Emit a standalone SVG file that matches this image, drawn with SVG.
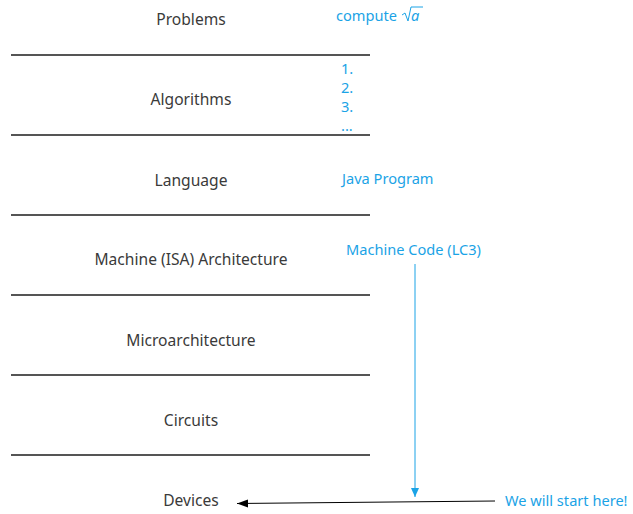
<svg xmlns="http://www.w3.org/2000/svg" width="633" height="514" viewBox="0 0 633 514">
  <style>
    .layer { font-family: "Noto Sans", "Liberation Sans", sans-serif; font-size: 15.6px; fill: #3a3a3a; text-anchor: middle; }
    .note { font-family: "Noto Sans", "Liberation Sans", sans-serif; font-size: 14.6px; fill: #1ba3e6; }
    .sep { stroke: #555; stroke-width: 2; }
  </style>
  <defs>
    <marker id="headBlue" markerWidth="10" markerHeight="10" refX="9" refY="5" orient="auto" markerUnits="userSpaceOnUse">
      <path d="M0,1 L9,5 L0,9 Z" fill="#1ba3e6"/>
    </marker>
    <marker id="headBlack" markerWidth="12" markerHeight="10" refX="11" refY="5" orient="auto" markerUnits="userSpaceOnUse">
      <path d="M0,1 L11,5 L0,9 Z" fill="#000"/>
    </marker>
  </defs>
  <rect width="633" height="514" fill="#fff"/>

  <!-- layer separators -->
  <g id="separators">
    <line class="sep" x1="11" y1="55" x2="370" y2="55"/>
    <line class="sep" x1="11" y1="135" x2="370" y2="135"/>
    <line class="sep" x1="11" y1="215" x2="370" y2="215"/>
    <line class="sep" x1="11" y1="295" x2="370" y2="295"/>
    <line class="sep" x1="11" y1="375" x2="370" y2="375"/>
    <line class="sep" x1="11" y1="455" x2="370" y2="455"/>
  </g>

  <!-- abstraction layers -->
  <g id="problems"><text class="layer" x="191" y="25">Problems</text></g>
  <g id="algorithms"><text class="layer" x="191" y="105">Algorithms</text></g>
  <g id="language"><text class="layer" x="191" y="186">Language</text></g>
  <g id="isa"><text class="layer" x="191" y="265">Machine (ISA) Architecture</text></g>
  <g id="microarchitecture"><text class="layer" x="191" y="346">Microarchitecture</text></g>
  <g id="circuits"><text class="layer" x="191" y="426">Circuits</text></g>
  <g id="devices"><text class="layer" x="191" y="506">Devices</text></g>

  <!-- side notes -->
  <g id="note-compute">
    <text class="note" x="336" y="21">compute</text>
    <path d="M402,15 L405,13 L408,21 L411,7 L423,7" fill="none" stroke="#1ba3e6" stroke-width="1"/>
    <text class="note" x="411" y="21" font-style="italic" font-family="Liberation Serif, serif" font-size="15">a</text>
  </g>
  <g id="note-steps">
    <text class="note" x="341" y="74">1.</text>
    <text class="note" x="341" y="93">2.</text>
    <text class="note" x="341" y="112">3.</text>
    <text class="note" x="341" y="131">...</text>
  </g>
  <g id="note-java"><text class="note" x="342" y="184">Java Program</text></g>
  <g id="note-machine-code"><text class="note" x="346" y="255">Machine Code (LC3)</text></g>
  <g id="note-start"><text class="note" x="505" y="506">We will start here!</text></g>

  <!-- connectors -->
  <g id="connectors">
    <line x1="415" y1="264" x2="415" y2="497" stroke="#1ba3e6" stroke-width="1" marker-end="url(#headBlue)"/>
    <line x1="495" y1="501" x2="237" y2="503.5" stroke="#000" stroke-width="1" marker-end="url(#headBlack)"/>
  </g>
</svg>
